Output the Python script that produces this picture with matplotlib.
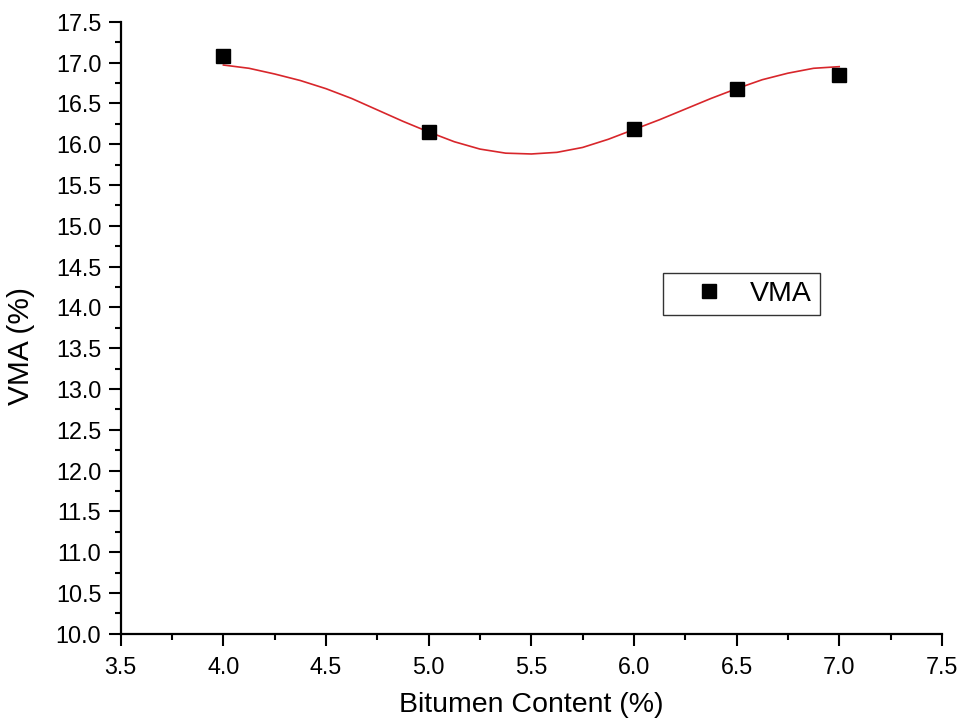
import numpy as np
import matplotlib
matplotlib.use("Agg")
import matplotlib.pyplot as plt
from matplotlib.ticker import MultipleLocator, FormatStrFormatter

plt.rcParams["font.family"] = ["Liberation Sans", "DejaVu Sans"]

# measured VMA values
bitumen = [4.0, 5.0, 6.0, 6.5, 7.0]
vma = [17.08, 16.15, 16.18, 16.68, 16.85]

# smoothed trend curve
curve_x = [4.0, 4.125, 4.25, 4.375, 4.5, 4.625, 4.75, 4.875, 5.0, 5.125, 5.25,
           5.375, 5.5, 5.625, 5.75, 5.875, 6.0, 6.125, 6.25, 6.375, 6.5,
           6.625, 6.75, 6.875, 7.0]
curve_y = [16.97, 16.93, 16.86, 16.78, 16.68, 16.56, 16.42, 16.28, 16.15, 16.03, 15.94,
           15.89, 15.88, 15.90, 15.96, 16.06, 16.18, 16.30, 16.43, 16.56, 16.68,
           16.79, 16.87, 16.93, 16.95]

fig = plt.figure(figsize=(9.66, 7.26), dpi=100)
ax = fig.add_axes([0.125, 0.127, 0.85, 0.843])

ax.plot(curve_x, curve_y, color="#d8262b", lw=1.2, zorder=2)
ax.plot(bitumen, vma, "s", color="black", markersize=9.5, label="VMA", zorder=3)

ax.set_xlim(3.5, 7.5)
ax.set_ylim(10.0, 17.5)
ax.xaxis.set_major_locator(MultipleLocator(0.5))
ax.xaxis.set_minor_locator(MultipleLocator(0.25))
ax.yaxis.set_major_locator(MultipleLocator(0.5))
ax.yaxis.set_minor_locator(MultipleLocator(0.25))
ax.xaxis.set_major_formatter(FormatStrFormatter("%.1f"))
ax.yaxis.set_major_formatter(FormatStrFormatter("%.1f"))

for side in ["top", "right"]:
    ax.spines[side].set_visible(False)
for side in ["left", "bottom"]:
    ax.spines[side].set_linewidth(1.6)

ax.tick_params(which="major", length=8.5, width=1.5, labelsize=16.8, direction="out")
ax.tick_params(axis="x", which="major", pad=7.5)
ax.tick_params(axis="y", which="major", pad=5.5)
ax.tick_params(which="minor", length=4.5, width=1.5, direction="out")

ax.set_xlabel("Bitumen Content (%)", fontsize=20.5, labelpad=9)
ax.set_ylabel("VMA (%)", fontsize=21.5)
ax.yaxis.set_label_coords(-0.104, 0.47)

leg = fig.legend(loc="upper left", bbox_to_anchor=(0.686, 0.624), fontsize=20.5,
                 frameon=True, fancybox=False, edgecolor="black",
                 handletextpad=0.1, borderpad=0.28, handlelength=2.7,
                 borderaxespad=0)
leg.get_frame().set_linewidth(1.0)

fig.savefig("out.png", dpi=100)
